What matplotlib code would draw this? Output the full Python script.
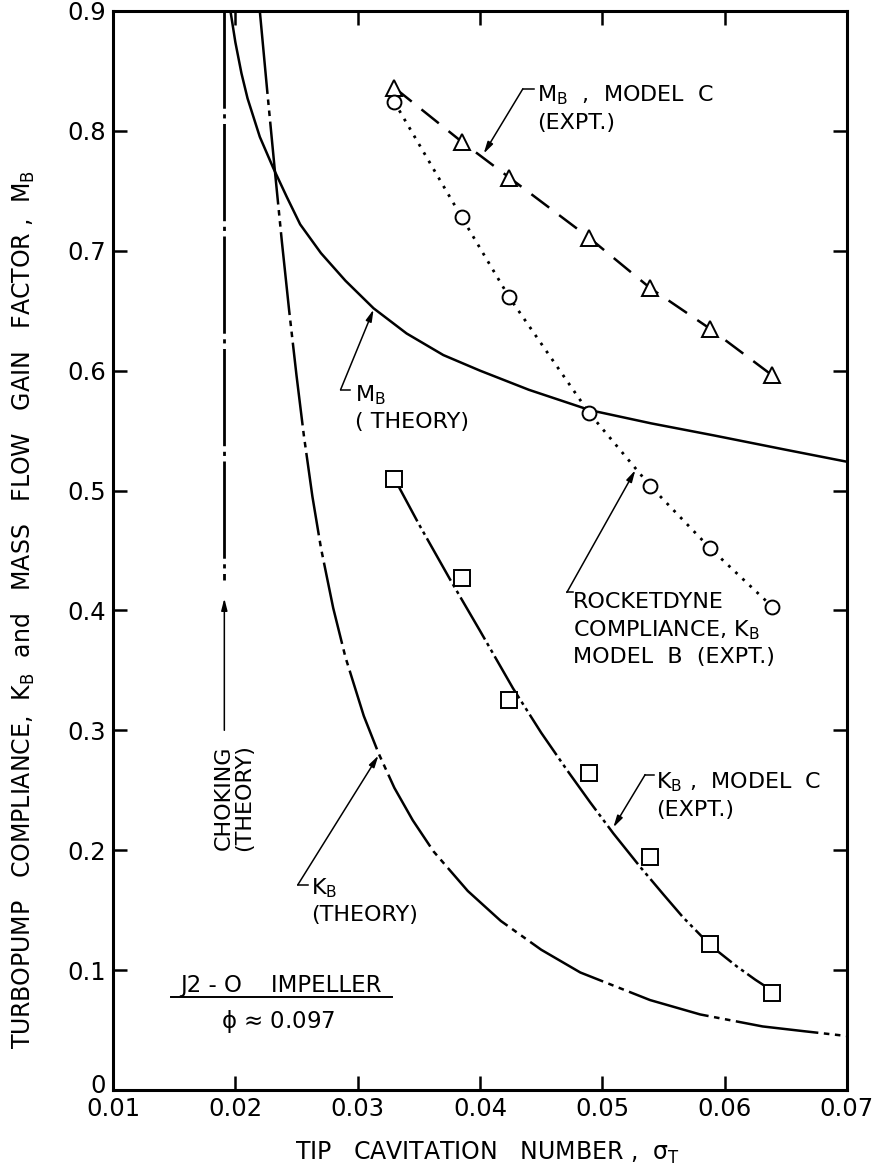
import matplotlib
matplotlib.use("Agg")
import matplotlib.pyplot as plt
import matplotlib.transforms as mtransforms

plt.rcParams.update(
    {
        "font.family": "DejaVu Sans",
        "mathtext.default": "regular",
        "lines.scale_dashes": False,
    }
)

# experimental points (tip cavitation number)
sigma_expt = [0.033, 0.0385, 0.0424, 0.0489, 0.0539, 0.0588, 0.0639]
mb_model_c = [0.836, 0.791, 0.761, 0.711, 0.669, 0.635, 0.596]
kb_rocketdyne = [0.824, 0.728, 0.661, 0.565, 0.504, 0.452, 0.403]
kb_model_c = [0.510, 0.427, 0.325, 0.264, 0.194, 0.122, 0.081]

# faired curve through the K_B model C points
kb_fit_x = [0.033, 0.035, 0.0376, 0.0400, 0.0427, 0.0450, 0.0471, 0.0490, 0.0509,
            0.0531, 0.0550, 0.0566, 0.0589, 0.0610, 0.0625, 0.064]
kb_fit_y = [0.510, 0.472, 0.425, 0.383, 0.335, 0.298, 0.267, 0.240, 0.214,
            0.186, 0.163, 0.144, 0.120, 0.103, 0.092, 0.082]

# theory curves
mb_th_x = [0.0196, 0.0200, 0.0205, 0.0210, 0.0220, 0.0231, 0.0242, 0.0253, 0.0270,
           0.0290, 0.0313, 0.0340, 0.0370, 0.0400, 0.0440, 0.0490, 0.0540, 0.0591,
           0.0650, 0.0700]
mb_th_y = [0.900, 0.874, 0.848, 0.827, 0.795, 0.769, 0.745, 0.722, 0.698,
           0.675, 0.652, 0.631, 0.613, 0.600, 0.584, 0.567, 0.556, 0.546,
           0.534, 0.524]

kb_th_x = [0.0220, 0.0226, 0.0232, 0.0238, 0.0244, 0.0250, 0.0256, 0.0263, 0.0270,
           0.0280, 0.0290, 0.0305, 0.0317, 0.0330, 0.0345, 0.0362, 0.0390, 0.0417,
           0.0450, 0.0482, 0.0539, 0.0580, 0.0631, 0.0665, 0.0700]
kb_th_y = [0.900, 0.834, 0.770, 0.708, 0.650, 0.596, 0.546, 0.495, 0.452,
           0.402, 0.361, 0.312, 0.281, 0.252, 0.225, 0.199, 0.166, 0.141,
           0.117, 0.098, 0.075, 0.063, 0.053, 0.049, 0.045]

choke_sigma = 0.0191
choke_y = [0.9, 0.425]

xticks = [0.01, 0.02, 0.03, 0.04, 0.05, 0.06, 0.07]
xticklabels = ["0.01", "0.02", "0.03", "0.04", "0.05", "0.06", "0.07"]
yticks = [0, 0.1, 0.2, 0.3, 0.4, 0.5, 0.6, 0.7, 0.8, 0.9]
yticklabels = ["0", "0.1", "0.2", "0.3", "0.4", "0.5", "0.6", "0.7", "0.8", "0.9"]

fig = plt.figure(figsize=(8.74, 11.66), dpi=100)
ax = fig.add_axes([0.1293, 0.0652, 0.8398, 0.9254])

ax.set_xlim(0.01, 0.07)
ax.set_ylim(0, 0.9)

# theory
ax.plot(mb_th_x, mb_th_y, color="k", lw=1.8)
ax.plot(kb_th_x, kb_th_y, color="k", lw=1.8, dashes=(60, 4, 4, 4, 4, 4))
ax.plot([choke_sigma, choke_sigma], choke_y, color="k", lw=2.0, dashes=(70, 4, 3, 4))

# experiments
ax.plot(sigma_expt, mb_model_c, color="k", lw=1.8, dashes=(16, 9),
        marker="^", ms=11, mfc="white", mec="k", mew=1.4)
ax.plot(sigma_expt, kb_rocketdyne, color="k", lw=2.0, dashes=(2, 5),
        marker="o", ms=10, mfc="white", mec="k", mew=1.4)
ax.plot(kb_fit_x, kb_fit_y, color="k", lw=1.8, dashes=(35, 3, 2.5, 3, 2.5, 3))
ax.plot(sigma_expt, kb_model_c, ls="none",
        marker="s", ms=11, mfc="white", mec="k", mew=1.4)

# axes styling
for s in ax.spines.values():
    s.set_linewidth(2.2)
ax.set_xticks(xticks)
ax.set_xticklabels(xticklabels, fontsize=17.5)
ax.set_yticks(yticks)
ax.set_yticklabels(yticklabels, fontsize=17.5)
ax.tick_params(direction="in", length=10, width=1.8, top=True, right=True, pad=5)
zero = ax.get_yticklabels()[0]
zero.set_transform(zero.get_transform() +
                   mtransforms.ScaledTranslation(0, 5 / 72, fig.dpi_scale_trans))

ax.set_xlabel(r"TIP   CAVITATION   NUMBER ,  $\sigma_T$", fontsize=17)
ax.xaxis.set_label_coords(0.51, -0.046)
ax.set_ylabel(r"TURBOPUMP   COMPLIANCE,  $K_B$  and   MASS   FLOW   GAIN   FACTOR ,  $M_B$",
              fontsize=17)
ax.yaxis.set_label_coords(-0.1035, 0.445)

arrow = dict(arrowstyle="-|>,head_length=0.7,head_width=0.18", color="k", lw=1.1,
             shrinkA=0, shrinkB=0)
fs = 16


def leader(kink, tip, tick_end, text, text_xy):
    ax.plot([kink[0], tick_end[0]], [kink[1], tick_end[1]], color="k", lw=1.1)
    ax.annotate("", xy=tip, xytext=kink, arrowprops=arrow)
    ax.text(text_xy[0], text_xy[1], text, fontsize=fs, va="center", ha="left",
            linespacing=1.35)


leader((0.0435, 0.835), (0.0403, 0.781), (0.0444, 0.835),
       "$M_B$  ,  MODEL  C\n(EXPT.)", (0.0447, 0.819))
leader((0.0286, 0.584), (0.0313, 0.651), (0.0294, 0.584),
       "$M_B$\n( THEORY)", (0.0298, 0.569))
leader((0.0471, 0.415), (0.0527, 0.517), (0.0476, 0.415),
       "ROCKETDYNE\nCOMPLIANCE, $K_B$\nMODEL  B  (EXPT.)", (0.0476, 0.384))
leader((0.0251, 0.171), (0.0317, 0.279), (0.0259, 0.171),
       "$K_B$\n(THEORY)", (0.0262, 0.158))
leader((0.0535, 0.263), (0.0509, 0.219), (0.0542, 0.263),
       "$K_B$ ,  MODEL  C\n(EXPT.)", (0.0544, 0.246))

# choking arrow and label
ax.annotate("", xy=(choke_sigma, 0.41), xytext=(choke_sigma, 0.30), arrowprops=arrow)
ax.text(0.0199, 0.244, "CHOKING\n(THEORY)", rotation=90, fontsize=fs,
        ha="center", va="center", linespacing=1.05)

# impeller note
ax.text(0.0237, 0.087, "J2 - O    IMPELLER", fontsize=16.5, ha="center", va="center")
ax.plot([0.01473, 0.03278], [0.0776, 0.0776], color="k", lw=1.4)
ax.text(0.0235, 0.057, r"$\phi$ ≈ 0.097", fontsize=16.5, ha="center", va="center")

fig.savefig("out.png", dpi=100)
